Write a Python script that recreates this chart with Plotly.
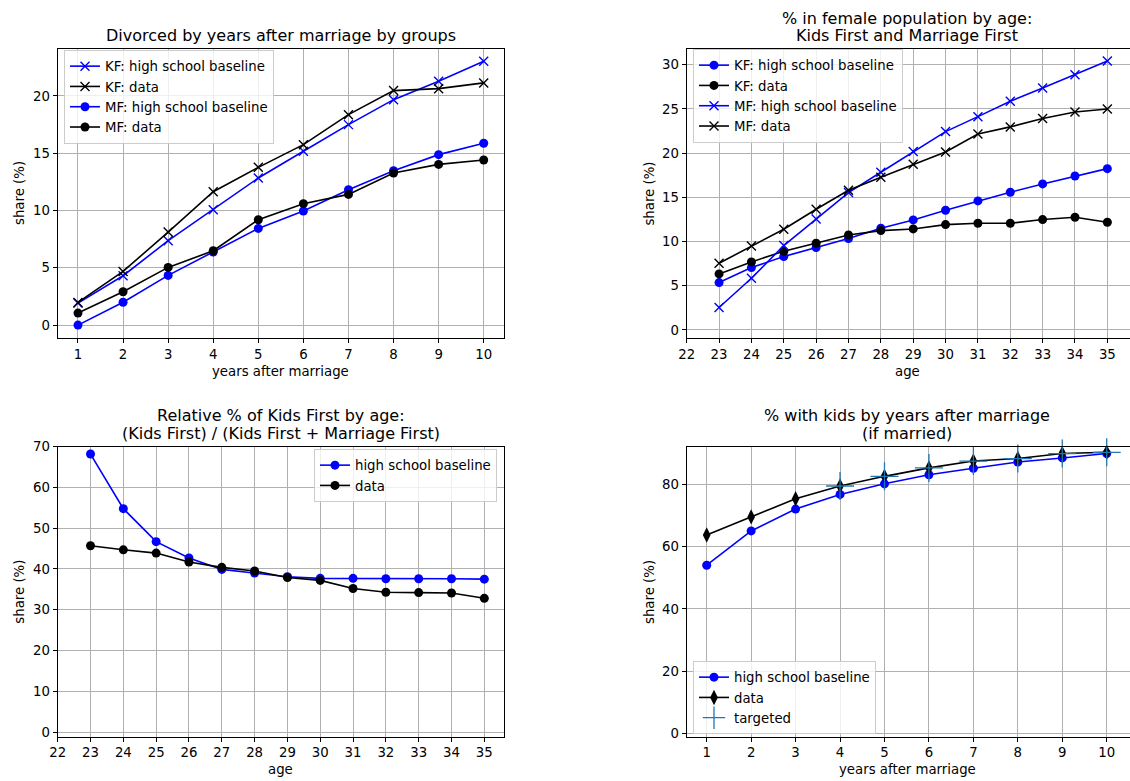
import plotly.graph_objects as go

# ---- data ----
years = [1, 2, 3, 4, 5, 6, 7, 8, 9, 10]
ages = [23, 24, 25, 26, 27, 28, 29, 30, 31, 32, 33, 34, 35]

# divorced share by years after marriage
div_kf_base = [1.92, 4.31, 7.37, 10.07, 12.84, 15.17, 17.5, 19.68, 21.28, 23.03]
div_kf_data = [1.98, 4.69, 8.12, 11.64, 13.77, 15.75, 18.37, 20.47, 20.64, 21.14]
div_mf_base = [0.0, 2.0, 4.34, 6.38, 8.44, 9.96, 11.82, 13.48, 14.88, 15.87]
div_mf_data = [1.05, 2.91, 5.04, 6.49, 9.2, 10.6, 11.41, 13.28, 14.03, 14.41]

# share in female population by age
pop_kf_base = [5.35, 7.05, 8.29, 9.31, 10.33, 11.5, 12.44, 13.53, 14.59, 15.57, 16.51, 17.41, 18.24]
pop_kf_data = [6.33, 7.69, 8.9, 9.8, 10.74, 11.23, 11.42, 11.91, 12.06, 12.06, 12.48, 12.74, 12.17]
pop_mf_base = [2.53, 5.84, 9.54, 12.55, 15.53, 17.83, 20.17, 22.43, 24.12, 25.86, 27.37, 28.87, 30.42]
pop_mf_data = [7.54, 9.5, 11.38, 13.64, 15.79, 17.26, 18.73, 20.13, 22.16, 22.96, 23.9, 24.65, 24.99]

# relative share of Kids First
rel_base = [68.2, 54.8, 46.7, 42.7, 39.9, 39.0, 38.1, 37.7, 37.7, 37.6, 37.6, 37.6, 37.5]
rel_data = [45.7, 44.7, 43.9, 41.7, 40.4, 39.5, 37.9, 37.2, 35.2, 34.3, 34.2, 34.1, 32.8]

# share with kids by years after marriage
kids_base = [54.0, 65.0, 72.0, 76.7, 80.1, 83.0, 85.1, 87.1, 88.4, 89.8]
kids_data = [63.7, 69.5, 75.3, 79.4, 82.5, 85.2, 87.4, 88.2, 89.8, 90.2]
targeted_years = [4, 5, 6, 7, 8, 9, 10]
kids_targeted = [79.4, 82.5, 85.2, 87.4, 88.2, 89.8, 90.2]

W, H = 1130, 781
FONT = "DejaVu Sans"
BLUE = "#0000ff"
BLACK = "#000000"
TAB_BLUE = "#1f77b4"
TICK_SIZE = 13.3
TITLE_SIZE = 16


def px_x(v):
    return v / W


def px_y(v):
    return 1 - v / H


fig = go.Figure()


def line(x, y, color, symbol, name, axis, legend, size=9, width=1.6):
    xa, ya = axis
    mk = dict(color=color, size=size, symbol=symbol)
    if symbol == "x-thin":
        mk["line"] = dict(color=color, width=1.4)
    fig.add_trace(go.Scatter(
        x=x, y=y, mode="lines+markers", name=name,
        line=dict(color=color, width=width), marker=mk,
        xaxis=xa, yaxis=ya, legend=legend, cliponaxis=False,
    ))


# panel 1
line(years, div_kf_base, BLUE, "x-thin", "KF: high school baseline", ("x", "y"), "legend")
line(years, div_kf_data, BLACK, "x-thin", "KF: data", ("x", "y"), "legend")
line(years, div_mf_base, BLUE, "circle", "MF: high school baseline", ("x", "y"), "legend")
line(years, div_mf_data, BLACK, "circle", "MF: data", ("x", "y"), "legend")

# panel 2
line(ages, pop_kf_base, BLUE, "circle", "KF: high school baseline", ("x2", "y2"), "legend2")
line(ages, pop_kf_data, BLACK, "circle", "KF: data", ("x2", "y2"), "legend2")
line(ages, pop_mf_base, BLUE, "x-thin", "MF: high school baseline", ("x2", "y2"), "legend2")
line(ages, pop_mf_data, BLACK, "x-thin", "MF: data", ("x2", "y2"), "legend2")

# panel 3
line(ages, rel_base, BLUE, "circle", "high school baseline", ("x3", "y3"), "legend3")
line(ages, rel_data, BLACK, "circle", "data", ("x3", "y3"), "legend3")

# panel 4
line(years, kids_base, BLUE, "circle", "high school baseline", ("x4", "y4"), "legend4")
line(years, kids_data, BLACK, "diamond-tall", "data", ("x4", "y4"), "legend4", size=11)
fig.add_trace(go.Scatter(
    x=targeted_years, y=kids_targeted, mode="markers", name="targeted",
    marker=dict(symbol="cross-thin", size=20, color=TAB_BLUE,
                line=dict(color=TAB_BLUE, width=1.3)),
    xaxis="x4", yaxis="y4", legend="legend4", cliponaxis=False,
))

left_dom = [px_x(57.7), px_x(504)]
right_dom = [px_x(686.7), 1.0]
top_dom = [px_y(338.3), px_y(49)]
bot_dom = [px_y(736.5), px_y(446.7)]

common = dict(
    showline=True, linecolor="black", linewidth=1, mirror=True,
    ticks="outside", ticklen=4, tickwidth=1, tickcolor="black",
    showgrid=True, gridcolor="#b0b0b0", gridwidth=1,
    zeroline=False, automargin=False,
    tickfont=dict(family=FONT, size=TICK_SIZE, color="black"),
)

fig.update_layout(
    xaxis=dict(domain=left_dom, range=[0.55, 10.45], tickvals=years, anchor="y", **common),
    yaxis=dict(domain=top_dom, range=[-1.15, 24.1], tickvals=[0, 5, 10, 15, 20], anchor="x", **common),
    xaxis2=dict(domain=right_dom, range=[22, 35.7], tickvals=list(range(22, 36)), anchor="y2", **common),
    yaxis2=dict(domain=top_dom, range=[-0.95, 31.77], tickvals=[0, 5, 10, 15, 20, 25, 30], anchor="x2", **common),
    xaxis3=dict(domain=left_dom, range=[22, 35.6], tickvals=list(range(22, 36)), anchor="y3", **common),
    yaxis3=dict(domain=bot_dom, range=[-1.1, 70], tickvals=[0, 10, 20, 30, 40, 50, 60, 70], anchor="x3", **common),
    xaxis4=dict(domain=right_dom, range=[0.55, 10.524], tickvals=years, anchor="y4", **common),
    yaxis4=dict(domain=bot_dom, range=[-0.9, 92], tickvals=[0, 20, 40, 60, 80], anchor="x4", **common),
)

legend_common = dict(
    bgcolor="rgba(255,255,255,0.8)", bordercolor="#cccccc", borderwidth=1,
    font=dict(family=FONT, size=TICK_SIZE, color="black"),
    tracegroupgap=0, itemwidth=30,
)
fig.update_layout(
    legend=dict(x=px_x(64), y=px_y(50), xanchor="left", yanchor="top", **legend_common),
    legend2=dict(x=px_x(693), y=px_y(49), xanchor="left", yanchor="top", **legend_common),
    legend3=dict(x=px_x(497), y=px_y(449), xanchor="right", yanchor="top", **legend_common),
    legend4=dict(x=px_x(693), y=px_y(734), xanchor="left", yanchor="bottom", **legend_common),
)

annotations = []


def text(s, x, y, size=TICK_SIZE, angle=0):
    annotations.append(dict(
        text=s, x=px_x(x), y=px_y(y), xref="paper", yref="paper",
        xanchor="center", yanchor="middle", showarrow=False, textangle=angle,
        font=dict(family=FONT, size=size, color="black"),
    ))


# panel titles
text("Divorced by years after marriage by groups", 280.9, 35.5, TITLE_SIZE)
text("% in female population by age:", 907, 18.5, TITLE_SIZE)
text("Kids First and Marriage First", 907, 35.5, TITLE_SIZE)
text("Relative % of Kids First by age:", 280.9, 415.7, TITLE_SIZE)
text("(Kids First) / (Kids First + Marriage First)", 280.9, 433.3, TITLE_SIZE)
text("% with kids by years after marriage", 907, 415.7, TITLE_SIZE)
text("(if married)", 907, 433.3, TITLE_SIZE)

# axis labels
text("years after marriage", 280.9, 371.7)
text("share (%)", 20, 193, angle=-90)
text("age", 907, 371.7)
text("share (%)", 649.3, 193.3, angle=-90)
text("age", 280.9, 769.3)
text("share (%)", 20, 591.7, angle=-90)
text("years after marriage", 907, 769.3)
text("share (%)", 649.3, 591.7, angle=-90)

fig.update_layout(
    annotations=annotations,
    width=W, height=H,
    margin=dict(l=0, r=0, t=0, b=0),
    paper_bgcolor="white", plot_bgcolor="white",
    font=dict(family=FONT, color="black"),
)

fig.write_html("out.html")
